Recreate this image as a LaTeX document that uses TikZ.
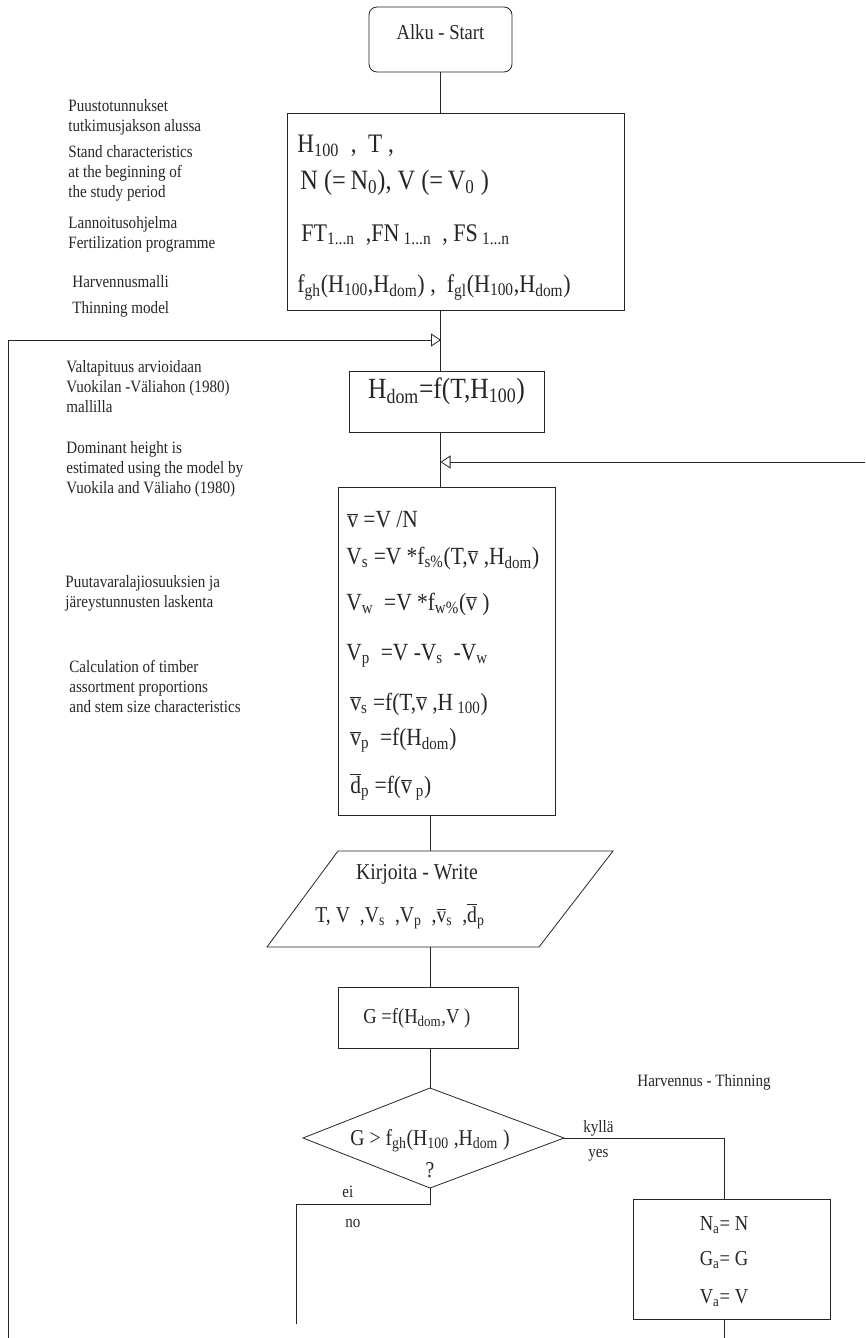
\documentclass[tikz,border=0pt]{standalone}
\usepackage{fontspec}
\setmainfont{Liberation Serif}[FakeStretch=0.87]
\usetikzlibrary{arrows.meta,fit}
\newcommand\sub[1]{\textsubscript{#1}}
\newcommand\vb{$\overline{\mbox{v}}$}
\newcommand\db{$\overline{\mbox{d}}$}
\begin{document}
\begin{tikzpicture}[x=0.75pt,y=-0.75pt,line width=0.6pt,color=black!85,
	box node/.style = {draw,inner sep=0pt},
	note/.style = {anchor=base west,inner sep=0pt,align=left,font=\fontsize{13}{15}\selectfont},
	eq/.style = {anchor=base west,inner sep=0pt,font=\fontsize{18.5}{22}\selectfont},
	big eq/.style = {eq,font=\fontsize{19}{23}\selectfont},
	open tip/.style = {-{Triangle[open,length=7.5pt,width=9.75pt]}}]
	
	\useasboundingbox (0,0) rectangle (865,1338);
	
	\node[box node,rounded corners=6pt,fit={(369,7)(512,72)},font=\fontsize{16}{19}\selectfont] (start) {Alku - Start};
	\node[box node,fit={(287,113)(624,310)}] (input) {};
	\node[box node,fit={(349,371)(544,432)},font=\fontsize{22}{26}\selectfont] (hdom) {H\sub{dom}=f(T,H\sub{100})};
	\node[box node,fit={(338,487)(555,815)}] (calc) {};
	\node[box node,fit={(338,987)(518,1048)}] (g) {};
	\node[box node,fit={(633,1199)(830,1319)}] (thin) {};
	
	\node[big eq,font=\fontsize{20}{24}\selectfont] (in1) at (297,152) {H\sub{100} ~, ~T ,};
	\node[big eq,font=\fontsize{21}{24}\selectfont] (in2) at (300,189) {N (=\,N\sub{0}), V (=\,V\sub{0} )};
	\node[big eq] (in3) at (301,241) {FT\sub{1...n} ~,FN\,\sub{1...n} ~, FS\,\sub{1...n}};
	\node[big eq] (in4) at (297,292) {f\sub{gh}(H\sub{100},H\sub{dom}) , ~f\sub{gl}(H\sub{100},H\sub{dom})};
	
	\node[eq] (c1) at (347,527) {\vb{} =V /N};
	\node[eq] (c2) at (346,564) {V\sub{s} =V *f\sub{s\%}(T,\vb{} ,H\sub{dom})};
	\node[eq] (c3) at (346,610) {V\sub{w} ~=V *f\sub{w\%}(\vb{} )};
	\node[eq] (c4) at (346,660) {V\sub{p} ~=V -V\sub{s} ~-V\sub{w}};
	\node[eq] (c5) at (350,710) {\vb\sub{s} =f(T,\vb{} ,H\,\sub{100})};
	\node[eq] (c6) at (350,745) {\vb\sub{p} ~=f(H\sub{dom})};
	\node[eq] (c7) at (350,793) {\db\sub{p} =f(\vb\,\sub{p})};
	
	\draw (338,851) coordinate (w1) -- (613,851) coordinate (w2) -- (539,947) coordinate (w3) -- (267,947) coordinate (w4) -- cycle;
	\node[font=\fontsize{17}{20}\selectfont] (write) at (417,874) {Kirjoita - Write};
	\node[eq,font=\fontsize{17}{20}\selectfont] (out) at (315,922) {T, V ~,V\sub{s} ~,V\sub{p} ~,\vb\sub{s} ~,\db\sub{p}};
	\node[eq,font=\fontsize{16}{19}\selectfont] (gtext) at (363,1023) {G =f(H\sub{dom},V )};
	
	\coordinate (dtop) at (430,1088);
	\coordinate (dright) at (564,1138);
	\coordinate (dbot) at (430,1188);
	\coordinate (dleft) at (303,1138);
	\draw (dtop) -- (dright) -- (dbot) -- (dleft) -- cycle;
	\node[anchor=base,inner sep=0pt,font=\fontsize{17}{20}\selectfont] (test) at (430,1145) {G > f\sub{gh}(H\sub{100} ,H\sub{dom} )};
	\node[anchor=base,inner sep=0pt,font=\fontsize{17}{20}\selectfont] (qm) at (430,1177) {?};
	
	\node[anchor=base,inner sep=0pt,font=\fontsize{16}{19}\selectfont] (t1) at (724,1230) {N\sub{a}= N};
	\node[anchor=base,inner sep=0pt,font=\fontsize{16}{19}\selectfont] (t2) at (724,1265) {G\sub{a}= G};
	\node[anchor=base,inner sep=0pt,font=\fontsize{16}{19}\selectfont] (t3) at (724,1303) {V\sub{a}= V};
	
	\node[note] (puusto) at (68,132) {Puustotunnukset\\tutkimusjakson alussa};
	\node[note] (stand) at (68,197) {Stand characteristics\\at the beginning of\\the study period};
	\node[note] (lann) at (68,248) {Lannoitusohjelma\\Fertilization programme};
	\node[note] (harv) at (72,287) {Harvennusmalli};
	\node[note] (thinm) at (72,313) {Thinning model};
	\node[note] (valta) at (66,412) {Valtapituus arvioidaan\\Vuokilan -V\"aliahon (1980)\\mallilla};
	\node[note] (domin) at (66,493) {Dominant height is\\estimated using the model by\\Vuokila and V\"aliaho (1980)};
	\node[note] (puut) at (65,607) {Puutavaralajiosuuksien ja\\j\"areystunnusten laskenta};
	\node[note] (calcn) at (69,712) {Calculation of timber\\assortment proportions\\and stem size characteristics};
	\node[note] (harvth) at (637,1086) {Harvennus - Thinning};
	\node[note] (kylla) at (583,1132) {kyll\"a};
	\node[note] (yes) at (588,1157) {yes};
	\node[note] (ei) at (342,1197) {ei};
	\node[note] (no) at (345,1227) {no};
	
	\coordinate (s2) at (430,0);
	\coordinate (loopend) at (8,1338);
	\coordinate (loopin) at (441,340);
	\coordinate (backin) at (865,462);
	\coordinate (ycorner) at (724,1138);
	\coordinate (yend) at (724,1338);
	\coordinate (nobend) at (296,1204);
	\coordinate (noend) at (296,1324);
	
	\path[-]
	(start.south) edge (start.south |- input.north)
	(input.south -| start) edge (hdom.north -| start)
	(hdom.south -| start) edge (calc.north -| start)
	(calc.south -| s2) edge (w1 -| s2)
	(w4 -| s2) edge (g.north -| s2)
	(g.south -| s2) edge (dtop)
	(thin.south -| yend) edge (yend);
	
	\draw[open tip] (loopend) |- (loopin);
	\draw[open tip] (backin) -- (backin -| start);
	\draw (dright) -- (ycorner) -- (ycorner |- thin.north);
	\draw (dbot) -- (dbot |- nobend) -- (nobend) -- (noend);
\end{tikzpicture}
\end{document}
